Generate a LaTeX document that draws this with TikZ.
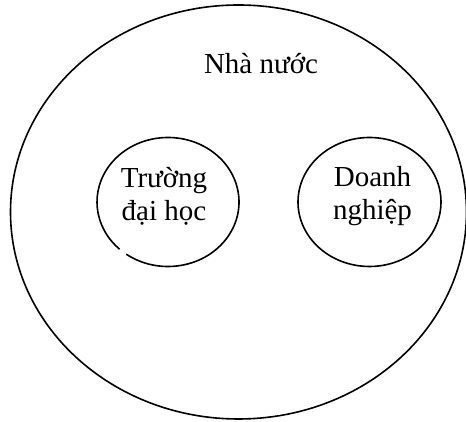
\documentclass[tikz,border=0pt]{standalone}
\usepackage{fontspec}
\setmainfont{Liberation Serif}
\usepackage{tikz}
\usetikzlibrary{shapes.geometric}

\begin{document}
\begin{tikzpicture}[x=0.5pt, y=0.5pt, line width=0.8pt,
    ring/.style={ellipse, draw, inner sep=0pt},
    label text/.style={align=center, font=\fontsize{14.5}{16.5}\selectfont}]
        % khung
        \useasboundingbox (0,0) rectangle (466,422);

        % Nhà nước
        \node[ring, minimum width=456pt/2, minimum height=414pt/2] (state) at (238.5,210) {};
        \node[label text, anchor=base] (stateText) at (261,348) {Nhà nước};

        % Trường đại học (nét vẽ có một khe nhỏ)
        \node[ellipse, inner sep=0pt, minimum width=71pt, minimum height=64.5pt] (uni) at (168,220) {};
        \draw (uni.center) ++(234:35.5pt and 32.25pt)
            arc[start angle=234, end angle=587, x radius=35.5pt, y radius=32.25pt];
        \node[label text] (uniText) at ([xshift=-2pt, yshift=3pt]uni.center) {Trường\\đại học};

        % Doanh nghiệp
        \node[ring, minimum width=71.5pt, minimum height=64.5pt] (firm) at (369.5,220) {};
        \node[label text] (firmText) at ([xshift=1.5pt, yshift=3pt]firm.center) {Doanh\\nghiệp};
\end{tikzpicture}
\end{document}
